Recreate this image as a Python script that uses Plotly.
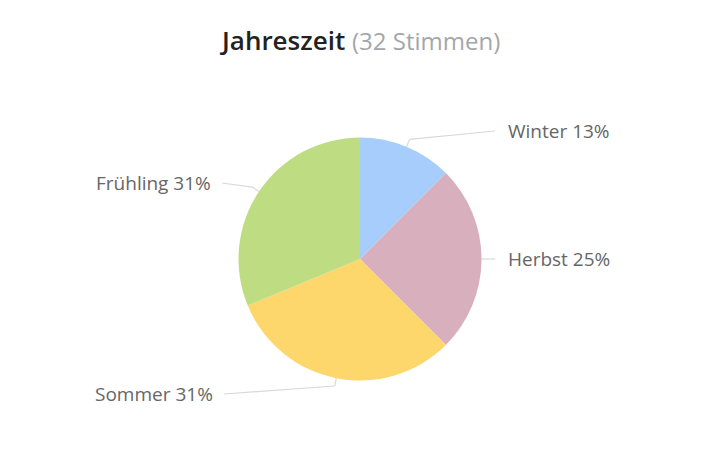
import math
import plotly.graph_objects as go

categories = ["Winter", "Herbst", "Sommer", "Frühling"]
votes = [4, 8, 10, 10]
colors = ["#a6cdfb", "#d8b0bd", "#fdd66c", "#bedd82"]
title_main = "Jahreszeit"
title_sub = "(32 Stimmen)"

W, H = 720, 449
cx, cy, r = 360, 259, 121.5

def px(x):
    return x / W

def py(y):
    return 1 - y / H

fig = go.Figure()
fig.add_trace(go.Pie(
    labels=categories, values=votes, sort=False, direction="clockwise", rotation=0,
    marker=dict(colors=colors, line=dict(width=0)),
    textinfo="none", hoverinfo="label+percent", showlegend=False,
    domain=dict(x=[px(cx - r), px(cx + r)], y=[py(cy + r), py(cy - r)]),
))

total = sum(votes)
shapes = []
annotations = []
cum = 0
label_pos = {
    "Winter": (495, 131, "left"),
    "Herbst": (495, 259, "left"),
    "Sommer": (224, 394, "right"),
    "Frühling": (222, 183, "right"),
}
for cat, v in zip(categories, votes):
    mid = (cum + v / 2) / total * 2 * math.pi
    cum += v
    ex = cx + r * math.sin(mid)
    ey = cy - r * math.cos(mid)
    ox = cx + (r + 8) * math.sin(mid)
    oy = cy - (r + 8) * math.cos(mid)
    lx, ly, side = label_pos[cat]
    for (x0, y0, x1, y1) in [(ex, ey, ox, oy), (ox, oy, lx, ly)]:
        shapes.append(dict(type="line", xref="paper", yref="paper",
                           x0=px(x0), y0=py(y0), x1=px(x1), y1=py(y1),
                           line=dict(color="#d9d9d9", width=1.2), layer="below"))
    pct = int(math.floor(v / total * 100 + 0.5))
    tx = lx + 11 if side == "left" else lx - 9
    annotations.append(dict(
        text=f"{cat} {pct}%", xref="paper", yref="paper", x=px(tx), y=py(ly),
        xanchor="left" if side == "left" else "right", yanchor="middle",
        showarrow=False, font=dict(family="Open Sans", size=19, color="#666666"),
    ))

annotations.append(dict(
    text=f"<span style='color:#222222'>{title_main}</span> "
         f"<span style='font-size:24px;font-weight:400;color:#a3a7ab'>{title_sub}</span>",
    xref="paper", yref="paper", x=0.5, y=py(40), xanchor="center", yanchor="middle",
    showarrow=False, font=dict(family="Open Sans", size=26, color="#222222", weight=600),
))

fig.update_layout(
    width=W, height=H, margin=dict(l=0, r=0, t=0, b=0),
    paper_bgcolor="white", plot_bgcolor="white",
    shapes=shapes, annotations=annotations,
)
fig.write_html("out.html")
